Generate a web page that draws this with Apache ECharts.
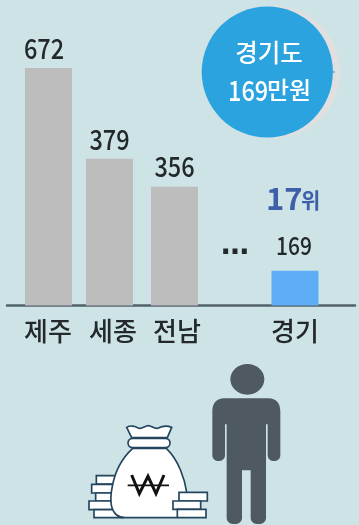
<!DOCTYPE html>
<html><head><meta charset="utf-8">
<style>html,body{margin:0;padding:0;background:#cee3e6}#c{width:359px;height:525px}</style>
<script src="https://cdn.jsdelivr.net/npm/echarts@6/dist/echarts.min.js"></script>
</head><body><div id="c"></div>
<script>
const categories = ['제주', '세종', '전남', '경기'];
const valueLabels = ['672', '379', '356', '169'];
// Bar lengths as drawn in the picture (the source graphic is not to scale with its printed values)
const drawnLevels = [672, 415, 336, 98];
const calloutLines = ['경기도', '169', '만원'];
const rankLabel = ['17', '위'];

const columnX = [48.5, 109.5, 174.5, 295];
const labelX = [48, 113, 177, 295];
const labelShift = [-4.5, 0, 0, -1];
const labelLift = [20, 19, 20, 25];
const labelSize = [28, 28, 28, 25];
const labelMap = {}; labelX.forEach((x, i) => labelMap[x] = categories[i]);
const KR = '"Noto Sans CJK KR","Noto Sans",sans-serif';
const INK = '#23282b', STROKE = '#23455e';

const chart = echarts.init(document.getElementById('c'), null, {renderer: 'canvas'});

function illustration(params, api) {
  const line = {stroke: STROKE, lineWidth: 5, fill: '#fff'};
  const coin = (x, y, w, h) => ({type: 'rect', shape: {x, y, width: w, height: h}, style: line});
  const path = (d, x, y, w, h, style) => ({type: 'path', shape: {pathData: d, x, y, width: w, height: h, layout: 'cover'}, style});
  return {
    type: 'group', x: 80, y: 355, scaleX: 1 / 3, scaleY: 1 / 3,
    children: [
      {type: 'ellipse', shape: {cx: 502, cy: 73, rx: 51, ry: 46}, style: {fill: '#4f5a60'}},
      path('M432 130 L566 130 C588 130 601 145 601 168 L601 300 C601 312 592 318 582 318 C572 318 563 312 563 300 L563 208 L558 208 L558 488 C558 500 548 507 535 507 C522 507 512 500 512 488 L512 346 L486 346 L486 488 C486 500 476 507 463 507 C450 507 440 500 440 488 L440 208 L435 208 L435 300 C435 312 426 318 416 318 C406 318 397 312 397 300 L397 168 C397 145 410 130 432 130 Z', 397, 130, 204, 377, {fill: '#4f5a60'}),
      coin(49, 362, 60, 25), coin(35, 388, 70, 26), coin(47, 414, 55, 24), coin(27, 438, 75, 26), coin(42, 464, 85, 24),
      path('M158 280 C125 310 105 350 97 395 C90 430 92 465 110 480 C118 487 125 488 135 488 L285 488 C300 488 312 478 317 460 C323 430 318 390 300 345 C290 320 275 297 258 280 Z', 93, 280, 228, 208, line),
      path('M140 218 C150 212 165 213 175 220 C185 225 195 213 205 213 C215 213 225 225 235 220 C245 215 260 212 275 218 L262 248 L155 248 Z', 140, 212, 135, 36, line),
      {type: 'rect', shape: {x: 144, y: 250, width: 126, height: 28, r: 14}, style: line},
      path('M155 360 L178 416 L204 364 L228 416 L252 360', 155, 360, 97, 56, {fill: null, stroke: '#111', lineWidth: 9}),
      {type: 'line', shape: {x1: 143, y1: 391, x2: 267, y2: 391}, style: {stroke: '#111', lineWidth: 5}},
      coin(297, 412, 85, 26), coin(279, 438, 83, 25), coin(292, 463, 86, 25)
    ]
  };
}

function valueLabel(params, api) {
  const i = params.dataIndex;
  const p = api.coord([api.value(0), api.value(1)]);
  return {
    type: 'text', x: p[0] + labelShift[i], y: p[1] - labelLift[i], scaleX: 0.84,
    style: {text: valueLabels[i], fill: INK, font: '500 ' + labelSize[i] + 'px ' + KR, align: 'center', verticalAlign: 'middle'}
  };
}

const barColors = ['#bdbdbd', '#bdbdbd', '#bdbdbd', '#5eaef5'];
const barData = drawnLevels.map((v, i) => [columnX[i], v]);
chart.setOption({
  animation: false,
  backgroundColor: '#cee3e6',
  grid: {left: 7, right: 4, top: 68, height: 237.5},
  xAxis: {
    type: 'value', min: 7, max: 355, splitLine: {show: false},
    axisLine: {show: true, onZero: false, lineStyle: {color: '#52616a', width: 2.5}},
    axisTick: {show: false},
    axisLabel: {
      customValues: labelX, margin: 13, showMinLabel: true, showMaxLabel: true,
      formatter: v => labelMap[v] || '',
      fontFamily: KR, fontSize: 26, fontWeight: 500, color: INK
    }
  },
  yAxis: {type: 'value', min: 0, max: 672, show: false},
  series: [
    {
      type: 'bar', barWidth: 47, z: 1,
      data: barData.map((d, i) => ({value: d, itemStyle: {color: barColors[i]}}))
    },
    {type: 'custom', data: barData, renderItem: valueLabel, silent: true, z: 2, clip: false},
    {type: 'custom', coordinateSystem: 'none', data: [0], renderItem: illustration, silent: true, z: 2}
  ],
  graphic: [
    {type: 'circle', shape: {cx: 274, cy: 72, r: 66}, style: {fill: '#e0e0e0'}, z: 3},
    {type: 'line', shape: {x1: 333, y1: 72, x2: 335, y2: 72}, style: {stroke: '#5a7fc0', lineWidth: 1}, z: 3},
    {type: 'circle', shape: {cx: 267.3, cy: 72, r: 65.6}, style: {fill: '#2aa3de'}, z: 4},
    {type: 'text', x: 269, y: 53, z: 5, style: {text: calloutLines[0], fill: '#fff', font: '500 24.5px ' + KR, align: 'center', verticalAlign: 'middle'}},
    {type: 'text', x: 228, y: 90, z: 5, scaleX: 0.84, style: {text: calloutLines[1], fill: '#fff', font: '500 28px ' + KR, align: 'left', verticalAlign: 'middle'}},
    {type: 'text', x: 267, y: 90, z: 5, style: {text: calloutLines[2], fill: '#fff', font: '500 24px ' + KR, align: 'left', verticalAlign: 'middle'}},
    {type: 'text', x: 266, y: 198, z: 5, style: {text: rankLabel[0], fill: '#3e60a8', font: '700 31px ' + KR, align: 'left', verticalAlign: 'middle'}},
    {type: 'text', x: 301, y: 200, z: 5, style: {text: rankLabel[1], fill: '#3e60a8', font: '700 21px ' + KR, align: 'left', verticalAlign: 'middle'}},
    {type: 'text', x: 235, y: 247, z: 5, style: {text: '…', fill: INK, font: '700 28px "DejaVu Sans"', align: 'center', verticalAlign: 'middle'}}
  ]
});
</script></body></html>
